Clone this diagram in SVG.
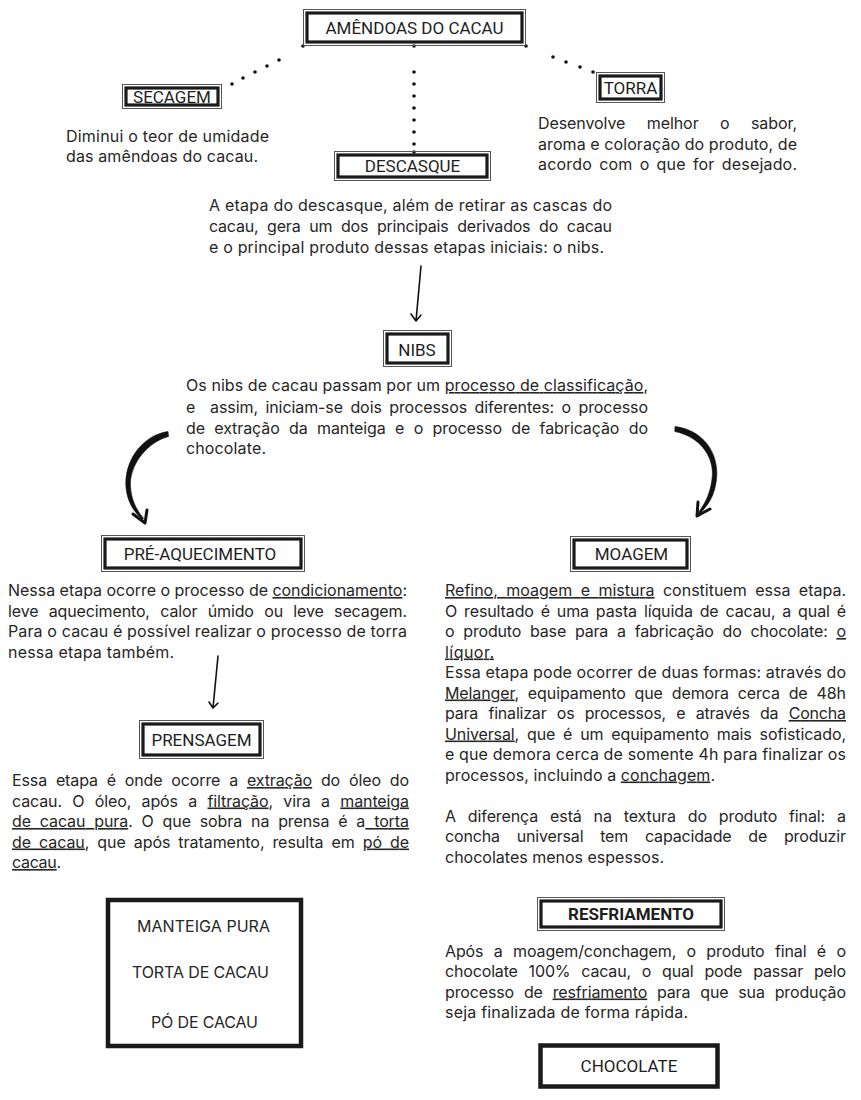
<svg xmlns="http://www.w3.org/2000/svg" width="861" height="1100" viewBox="0 0 861 1100">
<style>
.lbl{font-family:Roboto,"Liberation Sans",sans-serif;font-size:17px;fill:#1e1e1e;text-anchor:middle}
.b{font-weight:bold}
.t{font-family:Inter,"Liberation Sans",sans-serif;font-size:16px;fill:#262626}
.cap{font-family:Inter,"Liberation Sans",sans-serif;font-size:16px;fill:#262626}
.o{fill:none;stroke:#555;stroke-width:1}
.i{fill:none;stroke:#1a1a1a;stroke-width:3.2}
.k{fill:none;stroke:#1a1a1a;stroke-width:4.5}
.u{text-decoration:underline}
.dot{fill:#111}
.thin{fill:none;stroke:#111;stroke-width:1.6;stroke-linecap:round;stroke-linejoin:round}
.brush{fill:#111;stroke:#111;stroke-width:0.6;stroke-linejoin:round}
.head{fill:none;stroke:#111;stroke-width:3;stroke-linecap:round;stroke-linejoin:round}
</style>
<rect width="861" height="1100" fill="#fff"/>

<g id="connectors">
  <g class="dot">
    <circle cx="303" cy="46" r="1.8"/><circle cx="414" cy="46" r="1.8"/><circle cx="526" cy="46" r="1.8"/>
    <circle cx="279" cy="60" r="1.8"/><circle cx="267" cy="66" r="1.8"/><circle cx="255" cy="72" r="1.8"/><circle cx="243" cy="78" r="1.8"/><circle cx="232" cy="84" r="1.8"/>
    <circle cx="553" cy="57" r="1.8"/><circle cx="566" cy="62" r="1.8"/><circle cx="580" cy="67" r="1.8"/><circle cx="593" cy="72" r="1.8"/>
    <circle cx="414" cy="72" r="1.8"/><circle cx="414" cy="84" r="1.8"/><circle cx="414" cy="96" r="1.8"/><circle cx="414" cy="108" r="1.8"/><circle cx="414" cy="120" r="1.8"/><circle cx="414" cy="132" r="1.8"/><circle cx="414" cy="144" r="1.8"/><circle cx="414" cy="152" r="1.8"/>
  </g>
  <path class="thin" d="M421,266 L416,321 M411,314 L416,321 L421,315"/>
  <path class="thin" d="M218,656 L213,708 M209,702 L213,708 L218,703"/>
  <path class="brush" d="M168,431.5 C144,435 125.5,458 125.8,484 C126.2,500 133,511 142.6,519.8 L143.6,518.4 C136,509.5 130.6,498.5 130.4,484 C130.6,463 148,442 168.6,436.4 Z"/>
  <path class="head" d="M133,514 L145,523 L147,510"/>
  <path class="brush" d="M675,426.5 C703,430 717.6,452 716.8,475 C716,494 708.5,505 699.8,513.6 L698.4,512.4 C705.5,503 711.2,492 712.4,475 C713.2,455 699,436.5 674.8,431.5 Z"/>
  <path class="head" d="M698,502 L697,516 L710,509"/>
</g>

<g id="amendoas">
  <rect class="o" x="303.5" y="9.5" width="222" height="36"/>
  <rect class="i" x="307" y="13" width="215" height="29"/>
  <text class="lbl" x="414.5" y="33.8">AMÊNDOAS DO CACAU</text>
</g>

<g id="secagem">
  <rect class="o" x="122.5" y="84.5" width="99" height="24"/>
  <rect class="i" x="126" y="88" width="92" height="17"/>
  <text class="lbl" x="172" y="102.5">SECAGEM</text>
  <text class="t" x="66" y="142" textLength="203">Diminui o teor de umidade</text>
  <text class="t" x="66" y="162" textLength="192">das amêndoas do cacau.</text>
</g>

<g id="torra">
  <rect class="o" x="596.5" y="72.5" width="68" height="30"/>
  <rect class="i" x="600" y="76" width="61" height="23"/>
  <text class="lbl" x="630.5" y="93.8">TORRA</text>
  <text class="t" x="538" y="129" textLength="259" word-spacing="17">Desenvolve melhor o sabor,</text>
  <text class="t" x="538" y="150" textLength="259">aroma e coloração do produto, de</text>
  <text class="t" x="538" y="170" textLength="259" word-spacing="2.5">acordo com o que for desejado.</text>
</g>

<g id="descasque">
  <rect class="o" x="334.5" y="151.5" width="156" height="29"/>
  <rect class="i" x="338" y="155" width="149" height="22"/>
  <text class="lbl" x="412.5" y="171.8">DESCASQUE</text>
  <text class="t" x="209" y="211" textLength="403">A etapa do descasque, além de retirar as cascas do</text>
  <text class="t" x="209" y="232" textLength="403" word-spacing="4.5">cacau, gera um dos principais derivados do cacau</text>
  <text class="t" x="209" y="253" textLength="395">e o principal produto dessas etapas iniciais: o nibs.</text>
</g>

<g id="nibs">
  <rect class="o" x="383.5" y="330.5" width="68" height="36"/>
  <rect class="i" x="387" y="334" width="61" height="29"/>
  <text class="lbl" x="417" y="355.8">NIBS</text>
  <text class="t" x="186" y="391" textLength="462">Os nibs de cacau passam por um <tspan class="u">processo de classificação</tspan>,</text>
  <text class="t" x="186" y="413" textLength="462" word-spacing="3" xml:space="preserve">e  assim, iniciam-se dois processos diferentes: o processo</text>
  <text class="t" x="186" y="434" textLength="462" word-spacing="5">de extração da manteiga e o processo de fabricação do</text>
  <text class="t" x="186" y="454" textLength="80">chocolate.</text>
</g>

<g id="pre-aquecimento">
  <rect class="o" x="101.5" y="535.5" width="203" height="36"/>
  <rect class="i" x="105" y="539" width="196" height="29"/>
  <text class="lbl" x="200" y="559.5">PRÉ-AQUECIMENTO</text>
  <text class="t" x="8" y="596" textLength="399">Nessa etapa ocorre o processo de <tspan class="u">condicionamento</tspan>:</text>
  <text class="t" x="8" y="617" textLength="399" word-spacing="6">leve aquecimento, calor úmido ou leve secagem.</text>
  <text class="t" x="8" y="637" textLength="399">Para o cacau é possível realizar o processo de torra</text>
  <text class="t" x="8" y="658" textLength="166">nessa etapa também.</text>
</g>

<g id="prensagem">
  <rect class="o" x="139.5" y="720.5" width="124" height="38"/>
  <rect class="i" x="143" y="724" width="117" height="31"/>
  <text class="lbl" x="201.5" y="745.8">PRENSAGEM</text>
  <text class="t" x="12" y="786" textLength="397" word-spacing="4.5">Essa etapa é onde ocorre a <tspan class="u">extração</tspan> do óleo do</text>
  <text class="t" x="12" y="806.5" textLength="397" word-spacing="6">cacau. O óleo, após a <tspan class="u">filtração</tspan>, vira a <tspan class="u">manteiga</tspan></text>
  <text class="t" x="12" y="827" textLength="397" word-spacing="4.5"><tspan class="u">de cacau pura</tspan>. O que sobra na prensa é a<tspan class="u"> torta</tspan></text>
  <text class="t" x="12" y="847.5" textLength="397" word-spacing="3.5"><tspan class="u">de cacau</tspan>, que após tratamento, resulta em <tspan class="u">pó de</tspan></text>
  <text class="t" x="12" y="868" textLength="49"><tspan class="u">cacau</tspan>.</text>
</g>

<g id="produtos">
  <rect class="k" x="108" y="900" width="193" height="146"/>
  <text class="cap" x="137" y="932" textLength="133">MANTEIGA PURA</text>
  <text class="cap" x="132" y="978" textLength="137">TORTA DE CACAU</text>
  <text class="cap" x="151" y="1028" textLength="107">PÓ DE CACAU</text>
</g>

<g id="moagem">
  <rect class="o" x="570.5" y="536.5" width="120" height="35"/>
  <rect class="i" x="574" y="540" width="113" height="28"/>
  <text class="lbl" x="631.5" y="560">MOAGEM</text>
  <text class="t" x="445" y="596" textLength="401" word-spacing="4"><tspan class="u">Refino, moagem e mistura</tspan> constituem essa etapa.</text>
  <text class="t" x="445" y="616.5" textLength="401" word-spacing="2.5">O resultado é uma pasta líquida de cacau, a qual é</text>
  <text class="t" x="445" y="637" textLength="401" word-spacing="4.5">o produto base para a fabricação do chocolate: <tspan class="u">o</tspan></text>
  <text class="t" x="445" y="657.5" textLength="49"><tspan class="u">líquor.</tspan></text>
  <text class="t" x="445" y="678" textLength="401">Essa etapa pode ocorrer de duas formas: através do</text>
  <text class="t" x="445" y="698.5" textLength="401" word-spacing="4.5"><tspan class="u">Melanger</tspan>, equipamento que demora cerca de 48h</text>
  <text class="t" x="445" y="719" textLength="401" word-spacing="6"><tspan>para finalizar os processos, e através da </tspan><tspan class="u">Concha</tspan></text>
  <text class="t" x="445" y="739.5" textLength="401" word-spacing="3.5"><tspan class="u">Universal</tspan>, que é um equipamento mais sofisticado,</text>
  <text class="t" x="445" y="760" textLength="401">e que demora cerca de somente 4h para finalizar os</text>
  <text class="t" x="445" y="780.5" textLength="270">processos, incluindo a <tspan class="u">conchagem</tspan>.</text>
  <text class="t" x="445" y="821.5" textLength="401" word-spacing="7.5">A diferença está na textura do produto final: a</text>
  <text class="t" x="445" y="842" textLength="401" word-spacing="12.5">concha universal tem capacidade de produzir</text>
  <text class="t" x="445" y="862.5" textLength="219">chocolates menos espessos.</text>
</g>

<g id="resfriamento">
  <rect class="o" x="537.5" y="897.5" width="187" height="33"/>
  <rect class="i" x="541" y="901" width="180" height="26"/>
  <text class="lbl b" x="631" y="920">RESFRIAMENTO</text>
  <text class="t" x="445" y="956.5" textLength="401" word-spacing="6">Após a moagem/conchagem, o produto final é o</text>
  <text class="t" x="445" y="977" textLength="401" word-spacing="6.5">chocolate 100% cacau, o qual pode passar pelo</text>
  <text class="t" x="445" y="997.5" textLength="401" word-spacing="5.5">processo de <tspan class="u">resfriamento</tspan> para que sua produção</text>
  <text class="t" x="445" y="1018" textLength="243">seja finalizada de forma rápida.</text>
</g>

<g id="chocolate">
  <rect class="k" x="540.5" y="1045.5" width="177" height="41"/>
  <text class="lbl" x="629" y="1072">CHOCOLATE</text>
</g>
</svg>
